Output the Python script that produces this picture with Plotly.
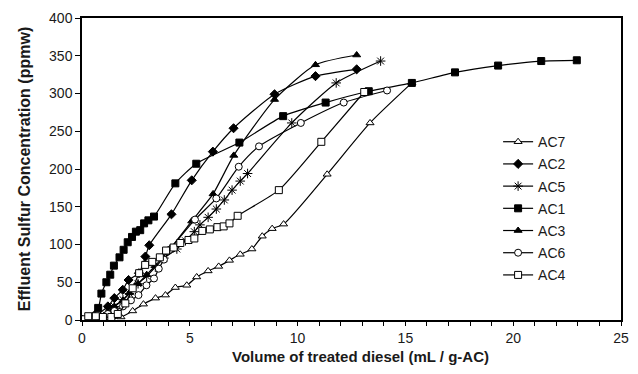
import plotly.graph_objects as go

ac7_x = [0, 0.82, 1.36, 1.81, 2.35, 2.85, 3.41, 3.87, 4.33, 4.86, 5.32, 5.85, 6.34, 6.84, 7.34, 7.88, 8.36, 8.82, 9.35, 11.37, 13.36, 15.3]
ac7_y = [0, 0, 1, 4, 12, 21, 29, 33, 43, 46, 57, 65, 71, 79, 87, 94, 111, 121, 127, 193, 261, 314]

ac2_x = [0, 0.6, 1.2, 1.5, 1.89, 2.16, 2.64, 2.94, 3.12, 4.15, 5.09, 6.07, 7.03, 8.93, 10.83, 12.74]
ac2_y = [0, 5, 18, 29, 40, 53, 62, 84, 99, 140, 185, 223, 254, 299, 323, 332]

ac5_x = [0, 0.6, 1.2, 1.5, 1.9, 2.2, 2.6, 3.0, 3.4, 3.8, 4.4, 4.8, 5.21, 5.47, 5.85, 6.23, 6.6, 6.96, 7.34, 7.68, 9.73, 11.79, 13.85]
ac5_y = [0, 3, 10, 18, 27, 35, 48, 58, 70, 82, 94, 105, 117, 126, 136, 147, 159, 172, 184, 194, 261, 314, 343]

ac1_x = [0, 0.75, 0.9, 1.13, 1.31, 1.48, 1.74, 1.93, 2.12, 2.32, 2.5, 2.7, 2.88, 3.08, 3.34, 4.33, 5.3, 7.3, 9.33, 11.3, 13.3, 15.3, 17.3, 19.3, 21.3, 22.95]
ac1_y = [0, 16, 35, 50, 60, 72, 83, 93, 103, 110, 117, 119, 128, 132, 137, 181, 207, 235, 270, 288, 303, 314, 328, 337, 343, 344]

ac3_x = [0, 0.6, 1.2, 1.5, 1.9, 2.2, 2.6, 3.0, 3.4, 4.1, 5.09, 6.08, 7.04, 8.93, 10.83, 12.74]
ac3_y = [0, 3, 10, 18, 26, 36, 48, 60, 72, 95, 131, 167, 218, 292, 338, 351]

ac6_x = [0, 0.6, 1.2, 1.5, 1.9, 2.27, 2.62, 2.99, 3.34, 3.56, 3.8, 4.07, 5.24, 6.23, 7.27, 8.21, 10.15, 12.14, 14.15]
ac6_y = [0, 3, 8, 12, 18, 26, 33, 46, 55, 68, 80, 93, 133, 161, 203, 230, 261, 288, 304]

ac4_x = [0, 0.29, 0.64, 0.97, 1.36, 1.66, 2.01, 2.35, 2.65, 2.93, 3.26, 3.61, 3.9, 4.25, 4.56, 4.94, 5.21, 5.58, 5.93, 6.28, 6.57, 6.84, 7.22, 9.13, 11.1, 13.09]
ac4_y = [1, 5, 5, 4, 4, 8, 22, 42, 62, 73, 77, 83, 92, 96, 102, 106, 108, 118, 120, 123, 124, 128, 138, 172, 236, 302]

series = [
    ("AC7", ac7_x, ac7_y, "triangle-up", "white", 7),
    ("AC2", ac2_x, ac2_y, "diamond", "black", 7),
    ("AC5", ac5_x, ac5_y, "asterisk-open", "black", 8),
    ("AC1", ac1_x, ac1_y, "square", "black", 7),
    ("AC3", ac3_x, ac3_y, "triangle-up", "black", 7),
    ("AC6", ac6_x, ac6_y, "circle", "white", 7),
    ("AC4", ac4_x, ac4_y, "square", "white", 7),
]

fig = go.Figure()
for i, (name, xs, ys, sym, fill, sz) in enumerate(series):
    fig.add_trace(go.Scatter(
        x=xs, y=ys, name=name, mode="lines+markers",
        legendgroup=name,
        line=dict(color="black", width=1.2, shape="spline", smoothing=0.6),
        marker=dict(symbol=sym, size=sz, color=fill,
                    line=dict(color="black", width=1)),
    ))

fig.update_layout(
    width=638, height=374,
    margin=dict(l=82, r=9, t=18, b=54),
    paper_bgcolor="white", plot_bgcolor="white",
    font=dict(family="Liberation Sans, Arial, sans-serif", size=14, color="#1a1a1a"),
    legend=dict(x=0.772, y=0.642, xanchor="left", yanchor="top",
                bgcolor="rgba(0,0,0,0)", font=dict(size=14),
                tracegroupgap=1, itemwidth=30),
    showlegend=True,
    annotations=[dict(
        text="<b>Volume of treated diesel (mL / g-AC)</b>",
        xref="paper", yref="paper", x=0.517, y=0, yanchor="top",
        yshift=-26, showarrow=False, font=dict(size=15, color="#1a1a1a"),
    )],
)
fig.update_xaxes(
    range=[0, 25], tickvals=[0, 5, 10, 15, 20, 25],
    ticks="outside", ticklen=4, tickcolor="black", ticklabelstandoff=0,
    minor=dict(dtick=1, ticks="outside", ticklen=4, tickcolor="black"),
    showline=True, linecolor="black", linewidth=1.5, mirror=True,
    showgrid=False, zeroline=False,
)
fig.update_yaxes(
    range=[0, 400], dtick=50,
    ticks="outside", ticklen=5, tickcolor="black",
    showline=True, linecolor="black", linewidth=1.5, mirror=True,
    showgrid=False, zeroline=False,
    title=dict(text="<b>Effluent Sulfur Concentration (ppmw)</b>", font=dict(size=16), standoff=14),
)

fig.write_html("out.html")
